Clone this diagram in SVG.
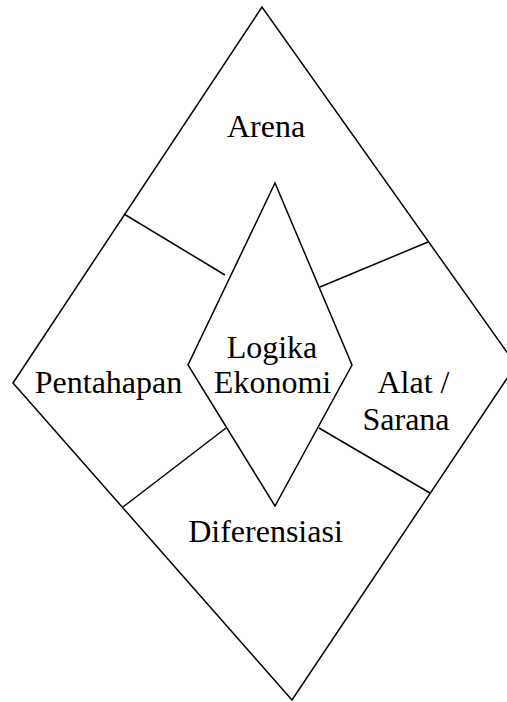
<svg xmlns="http://www.w3.org/2000/svg" width="507" height="702" viewBox="0 0 507 702">
<style>
.shape{fill:none;stroke:#000;stroke-width:1.5;stroke-linejoin:miter}
.line{stroke:#000;stroke-width:1.5;fill:none}
.lbl{font-family:"Liberation Serif","Times New Roman",serif;font-size:32px;fill:#000;text-anchor:middle}
</style>
<rect width="507" height="702" fill="#fff"/>
<g id="outer-diamond">
<polygon class="shape" points="262,7 13,383 292,700 516,365"/>
</g>
<g id="connectors">
<line class="line" x1="124" y1="214" x2="225" y2="275"/>
<line class="line" x1="428" y1="242" x2="320" y2="287"/>
<line class="line" x1="123" y1="507" x2="226" y2="428"/>
<line class="line" x1="319" y1="428" x2="430" y2="493"/>
</g>
<g id="logika-ekonomi">
<polygon class="shape" points="275,183 188,365 275,506 352,365"/>
<text class="lbl" x="272" y="358">Logika</text>
<text class="lbl" x="272.5" y="393">Ekonomi</text>
</g>
<g id="arena">
<text class="lbl" x="266" y="137">Arena</text>
</g>
<g id="pentahapan">
<text class="lbl" x="108.5" y="393">Pentahapan</text>
</g>
<g id="alat-sarana">
<text class="lbl" x="413.5" y="393">Alat /</text>
<text class="lbl" x="406" y="430">Sarana</text>
</g>
<g id="diferensiasi">
<text class="lbl" x="265.5" y="542">Diferensiasi</text>
</g>
</svg>
